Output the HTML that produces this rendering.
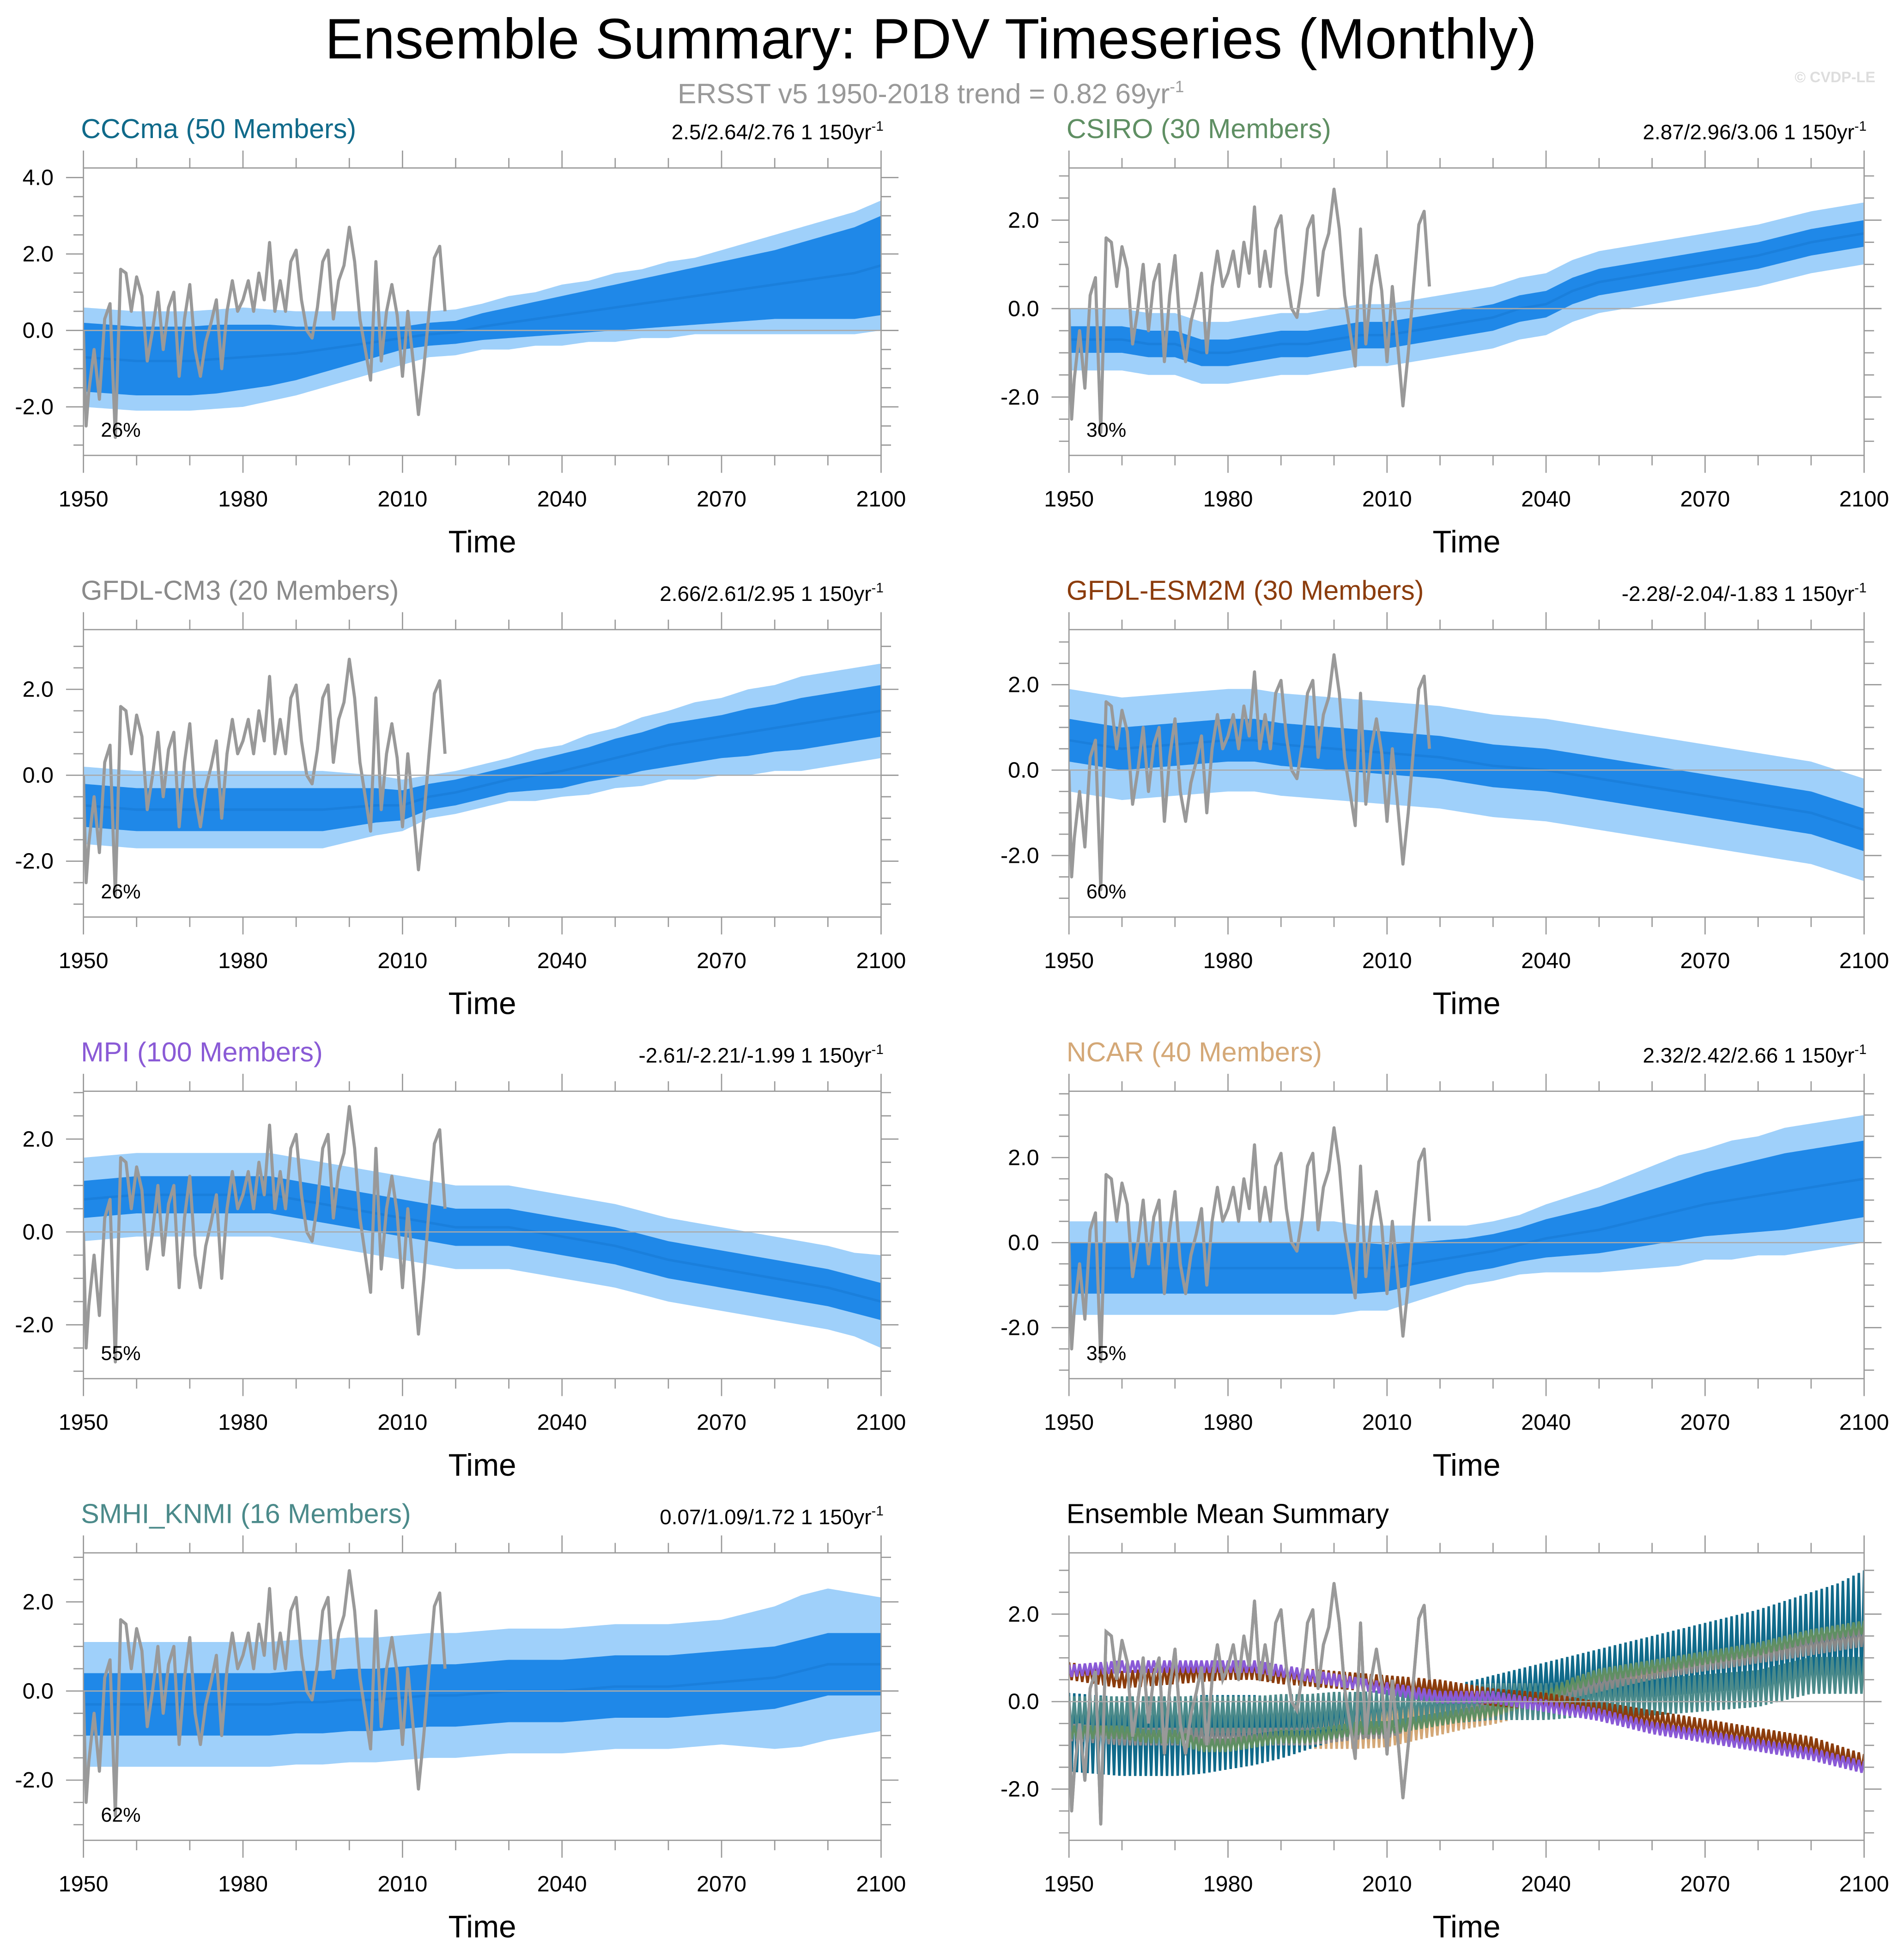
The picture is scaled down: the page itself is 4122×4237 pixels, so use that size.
<!DOCTYPE html>
<html><head><meta charset="utf-8"><style>
html,body{margin:0;padding:0;background:#fff}
svg{display:block}
text{font-family:"Liberation Sans",sans-serif}
</style></head><body>
<svg id="root" xmlns="http://www.w3.org/2000/svg" width="4122" height="4237" viewBox="0 0 1530 1572.8">
<rect width="1530" height="1572.8" fill="#fff"/>
<text x="748" y="47" font-size="46" text-anchor="middle" fill="#000">Ensemble Summary: PDV Timeseries (Monthly)</text>
<text x="748" y="83" font-size="22.5" text-anchor="middle" fill="#999">ERSST v5 1950-2018 trend = 0.82 69yr<tspan dy="-9" font-size="13">-1</tspan></text>
<text x="1507" y="66" font-size="12" font-weight="bold" text-anchor="end" fill="#ddd">© CVDP-LE</text>
<g id="panels"></g>
</svg>
<script>
const years5 = [1950,1955,1960,1965,1970,1975,1980,1985,1990,1995,2000,2005,2010,2015,2020,2025,2030,2035,2040,2045,2050,2055,2060,2065,2070,2075,2080,2085,2090,2095,2100];
const obsYears = [1950,1950.5,1951,1952,1953,1954,1955,1956,1957,1958,1959,1960,1961,1962,1963,1964,1965,1966,1967,1968,1969,1970,1971,1972,1973,1974,1975,1976,1977,1978,1979,1980,1981,1982,1983,1984,1985,1986,1987,1988,1989,1990,1991,1992,1993,1994,1995,1996,1997,1998,1999,2000,2001,2002,2003,2004,2005,2006,2007,2008,2009,2010,2011,2012,2013,2014,2015,2016,2017,2018];
const obsValues = [0.0,-2.5,-1.6,-0.5,-1.8,0.3,0.7,-2.8,1.6,1.5,0.5,1.4,0.9,-0.8,0.0,1.0,-0.5,0.6,1.0,-1.2,0.3,1.2,-0.5,-1.2,-0.3,0.2,0.8,-1.0,0.5,1.3,0.5,0.8,1.3,0.5,1.5,0.8,2.3,0.5,1.3,0.5,1.8,2.1,0.8,0.0,-0.2,0.6,1.8,2.1,0.3,1.3,1.7,2.7,1.8,0.3,-0.5,-1.3,1.8,-0.8,0.5,1.2,0.4,-1.2,0.5,-0.8,-2.2,-1.0,0.5,1.9,2.2,0.5];

const cccmaMean = [-0.7,-0.75,-0.8,-0.8,-0.8,-0.75,-0.7,-0.65,-0.6,-0.5,-0.4,-0.3,-0.2,-0.1,-0.05,0.1,0.2,0.3,0.4,0.5,0.6,0.7,0.8,0.9,1.0,1.1,1.2,1.3,1.4,1.5,1.7];
const cccmaInner = [0.9,0.9,0.9,0.9,0.9,0.9,0.85,0.8,0.7,0.6,0.5,0.4,0.3,0.3,0.3,0.35,0.4,0.45,0.5,0.55,0.6,0.65,0.7,0.75,0.8,0.85,0.9,1.0,1.1,1.2,1.3];
const cccmaOuter = [1.3,1.3,1.3,1.3,1.3,1.3,1.3,1.2,1.1,1.0,0.9,0.8,0.7,0.6,0.6,0.6,0.7,0.7,0.8,0.8,0.9,0.9,1.0,1.0,1.1,1.2,1.3,1.4,1.5,1.6,1.7];
const csiroMean = [-0.7,-0.7,-0.7,-0.8,-0.8,-1.0,-1.0,-0.9,-0.8,-0.8,-0.7,-0.6,-0.6,-0.5,-0.4,-0.3,-0.2,0.0,0.1,0.4,0.6,0.7,0.8,0.9,1.0,1.1,1.2,1.35,1.5,1.6,1.7];
const csiroInner = [0.3,0.3,0.3,0.3,0.3,0.3,0.3,0.3,0.3,0.3,0.3,0.3,0.3,0.3,0.3,0.3,0.3,0.3,0.3,0.3,0.3,0.3,0.3,0.3,0.3,0.3,0.3,0.3,0.3,0.3,0.3];
const csiroOuter = [0.7,0.7,0.7,0.7,0.7,0.7,0.7,0.7,0.7,0.7,0.7,0.7,0.7,0.7,0.7,0.7,0.7,0.7,0.7,0.7,0.7,0.7,0.7,0.7,0.7,0.7,0.7,0.7,0.7,0.7,0.7];
const cm3Mean = [-0.7,-0.75,-0.8,-0.8,-0.8,-0.8,-0.8,-0.8,-0.8,-0.8,-0.75,-0.7,-0.7,-0.5,-0.4,-0.25,-0.1,0.0,0.1,0.25,0.4,0.55,0.7,0.8,0.9,1.0,1.1,1.2,1.3,1.4,1.5];
const cm3Inner = [0.5,0.5,0.5,0.5,0.5,0.5,0.5,0.5,0.5,0.5,0.45,0.4,0.35,0.3,0.3,0.3,0.3,0.35,0.4,0.4,0.45,0.45,0.5,0.5,0.5,0.55,0.55,0.6,0.6,0.6,0.6];
const cm3Outer = [0.9,0.9,0.9,0.9,0.9,0.9,0.9,0.9,0.9,0.9,0.8,0.7,0.6,0.5,0.5,0.5,0.5,0.6,0.6,0.7,0.7,0.8,0.8,0.9,0.9,1.0,1.0,1.1,1.1,1.1,1.1];
const esmMean = [0.7,0.6,0.5,0.55,0.6,0.65,0.7,0.7,0.6,0.55,0.5,0.45,0.4,0.35,0.3,0.2,0.1,0.05,0.0,-0.1,-0.2,-0.3,-0.4,-0.5,-0.6,-0.7,-0.8,-0.9,-1.0,-1.2,-1.4];
const esmInner = [0.5,0.5,0.5,0.5,0.5,0.5,0.5,0.5,0.5,0.5,0.5,0.5,0.5,0.5,0.5,0.5,0.5,0.5,0.5,0.5,0.5,0.5,0.5,0.5,0.5,0.5,0.5,0.5,0.5,0.5,0.5];
const esmOuter = [1.2,1.2,1.2,1.2,1.2,1.2,1.2,1.2,1.2,1.2,1.2,1.2,1.2,1.2,1.2,1.2,1.2,1.2,1.2,1.2,1.2,1.2,1.2,1.2,1.2,1.2,1.2,1.2,1.2,1.2,1.2];
const mpiMean = [0.7,0.75,0.8,0.8,0.8,0.8,0.8,0.8,0.7,0.6,0.5,0.4,0.3,0.2,0.1,0.1,0.1,0.0,-0.1,-0.2,-0.3,-0.45,-0.6,-0.7,-0.8,-0.9,-1.0,-1.1,-1.2,-1.35,-1.5];
const mpiInner = [0.4,0.4,0.4,0.4,0.4,0.4,0.4,0.4,0.4,0.4,0.4,0.4,0.4,0.4,0.4,0.4,0.4,0.4,0.4,0.4,0.4,0.4,0.4,0.4,0.4,0.4,0.4,0.4,0.4,0.4,0.4];
const mpiOuter = [0.9,0.9,0.9,0.9,0.9,0.9,0.9,0.9,0.9,0.9,0.9,0.9,0.9,0.9,0.9,0.9,0.9,0.9,0.9,0.9,0.9,0.9,0.9,0.9,0.9,0.9,0.9,0.9,0.9,0.9,1.0];
const ncarMean = [-0.6,-0.6,-0.6,-0.6,-0.6,-0.6,-0.6,-0.6,-0.6,-0.6,-0.6,-0.6,-0.6,-0.5,-0.4,-0.3,-0.2,-0.05,0.1,0.2,0.3,0.45,0.6,0.75,0.9,1.0,1.1,1.2,1.3,1.4,1.5];
const ncarInner = [0.6,0.6,0.6,0.6,0.6,0.6,0.6,0.6,0.6,0.6,0.6,0.6,0.55,0.5,0.45,0.4,0.4,0.4,0.45,0.5,0.55,0.6,0.65,0.7,0.75,0.8,0.85,0.9,0.9,0.9,0.9];
const ncarOuter = [1.1,1.1,1.1,1.1,1.1,1.1,1.1,1.1,1.1,1.1,1.1,1.0,1.0,0.9,0.8,0.7,0.7,0.7,0.8,0.9,1.0,1.1,1.2,1.3,1.3,1.4,1.4,1.5,1.5,1.5,1.5];
const smhiMean = [-0.3,-0.3,-0.3,-0.3,-0.3,-0.3,-0.3,-0.3,-0.25,-0.25,-0.2,-0.2,-0.15,-0.1,-0.1,-0.05,0.0,0.0,0.0,0.05,0.1,0.1,0.1,0.15,0.2,0.25,0.3,0.45,0.6,0.6,0.6];
const smhiInner = [0.7,0.7,0.7,0.7,0.7,0.7,0.7,0.7,0.7,0.7,0.7,0.7,0.7,0.7,0.7,0.7,0.7,0.7,0.7,0.7,0.7,0.7,0.7,0.7,0.7,0.7,0.7,0.7,0.7,0.7,0.7];
const smhiOuter = [1.4,1.4,1.4,1.4,1.4,1.4,1.4,1.4,1.4,1.4,1.4,1.4,1.4,1.4,1.4,1.4,1.4,1.4,1.4,1.4,1.4,1.4,1.4,1.4,1.4,1.5,1.6,1.7,1.7,1.6,1.5];

const xTickYears = [1950,1980,2010,2040,2070,2100];

const NS = "http://www.w3.org/2000/svg";
const root = document.getElementById('panels');
function mk(tag, attrs, parent){const e=document.createElementNS(NS,tag);for(const k in attrs)e.setAttribute(k,attrs[k]);(parent||root).appendChild(e);return e;}
function interp(arr, yr){const t=(yr-1950)/5;const i=Math.min(Math.floor(t),29);const f=t-i;return arr[i]*(1-f)+arr[i+1]*f;}

const panels = [
 {name:'cccma',title:'CCCma (50 Members)',color:'#106a8a',stat:'2.5/2.64/2.76 1 150yr',col:0,row:0,ymin:-3.27,ymax:4.25,yt:[-2,0,2,4],pct:'26%',m:cccmaMean,i:cccmaInner,o:cccmaOuter},
 {name:'csiro',title:'CSIRO (30 Members)',color:'#5f8f63',stat:'2.87/2.96/3.06 1 150yr',col:1,row:0,ymin:-3.32,ymax:3.18,yt:[-2,0,2],pct:'30%',m:csiroMean,i:csiroInner,o:csiroOuter},
 {name:'gfdl-cm3',title:'GFDL-CM3 (20 Members)',color:'#8a8a8a',stat:'2.66/2.61/2.95 1 150yr',col:0,row:1,ymin:-3.3,ymax:3.39,yt:[-2,0,2],pct:'26%',m:cm3Mean,i:cm3Inner,o:cm3Outer},
 {name:'gfdl-esm2m',title:'GFDL-ESM2M (30 Members)',color:'#8b3c0c',stat:'-2.28/-2.04/-1.83 1 150yr',col:1,row:1,ymin:-3.44,ymax:3.29,yt:[-2,0,2],pct:'60%',m:esmMean,i:esmInner,o:esmOuter},
 {name:'mpi',title:'MPI (100 Members)',color:'#8a5ad6',stat:'-2.61/-2.21/-1.99 1 150yr',col:0,row:2,ymin:-3.16,ymax:3.03,yt:[-2,0,2],pct:'55%',m:mpiMean,i:mpiInner,o:mpiOuter},
 {name:'ncar',title:'NCAR (40 Members)',color:'#d4a877',stat:'2.32/2.42/2.66 1 150yr',col:1,row:2,ymin:-3.2,ymax:3.56,yt:[-2,0,2],pct:'35%',m:ncarMean,i:ncarInner,o:ncarOuter},
 {name:'smhi-knmi',title:'SMHI_KNMI (16 Members)',color:'#4b8a8a',stat:'0.07/1.09/1.72 1 150yr',col:0,row:3,ymin:-3.35,ymax:3.1,yt:[-2,0,2],pct:'62%',m:smhiMean,i:smhiInner,o:smhiOuter},
 {name:'ensemble-mean',title:'Ensemble Mean Summary',color:'#000',stat:null,col:1,row:3,ymin:-3.17,ymax:3.4,yt:[-2,0,2],pct:null}
];

panels.forEach(p=>{
  const L = p.col? 859:67, R = p.col?1498:708, T = 135+p.row*371, B = T+231;
  const xs = yr => L + (yr-1950)/150*(R-L);
  const ys = v => B - (v-p.ymin)/(p.ymax-p.ymin)*(B-T);
  const g = mk('g',{});
  
  
  const clipId='clip-'+p.name;
  const cp=mk('clipPath',{id:clipId},g); mk('rect',{x:L,y:T,width:R-L,height:B-T},cp);
  const plot=mk('g',{'clip-path':'url(#'+clipId+')'},g);
  const zl=mk('line',{x1:L,x2:R+14,y1:ys(0),y2:ys(0),stroke:'#aaa','stroke-width':1},g);
  
  
  if(p.m){
    const fine=[];for(let y=1950;y<=2100.001;y+=0.5)fine.push(y);
    let up='',dn='';
    fine.forEach(y=>{up+=xs(y)+','+ys(interp(p.m,y)+interp(p.o,y))+' ';});
    fine.slice().reverse().forEach(y=>{dn+=xs(y)+','+ys(interp(p.m,y)-interp(p.o,y))+' ';});
    const ob=mk('polygon',{points:up+dn,fill:'#9fd0fa'},plot);
    
    
    up='';dn='';
    fine.forEach(y=>{up+=xs(y)+','+ys(interp(p.m,y)+interp(p.i,y))+' ';});
    fine.slice().reverse().forEach(y=>{dn+=xs(y)+','+ys(interp(p.m,y)-interp(p.i,y))+' ';});
    const ib=mk('polygon',{points:up+dn,fill:'#1f88e8'},plot);
    
    
    const ml=mk('polyline',{points:years5.map((y,k)=>xs(y)+','+ys(p.m[k])).join(' '),fill:'none',stroke:'#1a7fdc','stroke-width':2},plot);
    
    
  }
  const obs=mk('polyline',{points:obsYears.map((y,k)=>xs(y)+','+ys(obsValues[k])).join(' '),fill:'none',stroke:'#999','stroke-width':2.5,'stroke-linejoin':'round'},plot);
  
  
  if(!p.m){
    const sets=[[ncarMean,ncarInner,'#d4a877',0.8],[cccmaMean,cccmaInner,'#106a8a',1.0],[smhiMean,smhiInner,'#4b8a8a',0.6],[cm3Mean,cm3Inner,'#888',0.4],[csiroMean,csiroInner,'#5f8f63',0.5],[esmMean,esmInner,'#8b3c0c',0.4],[mpiMean,mpiInner,'#8a5ad6',0.35]];
    sets.forEach(([m,inn,c,s])=>{
      let pts='';let sgn=1;
      for(let y=1950;y<=2100.001;y+=0.5){pts+=xs(y)+','+ys(interp(m,y)+sgn*interp(inn,y)*s)+' ';sgn=-sgn;}
      const l=mk('polyline',{points:pts,fill:'none',stroke:c,'stroke-width':2},plot);
      
      
    });
    const obs2=mk('polyline',{points:obsYears.map((y,k)=>xs(y)+','+ys(obsValues[k])).join(' '),fill:'none',stroke:'#999','stroke-width':2.5},plot);
    
    
  }
  const fr=mk('rect',{x:L,y:T,width:R-L,height:B-T,fill:'none',stroke:'#999','stroke-width':1},g);
  
  
  for(let y=1950;y<=2100;y+=10){
    const major=(y-1950)%30===0, len=major?14:8;
    mk('line',{x1:xs(y),x2:xs(y),y1:B,y2:B+len,stroke:'#999','stroke-width':1},g);
    mk('line',{x1:xs(y),x2:xs(y),y1:T,y2:T-len,stroke:'#999','stroke-width':1},g);
  }
  xTickYears.forEach(y=>{
    const t=mk('text',{x:xs(y),y:B+41,'font-size':18,'text-anchor':'middle'},g);t.textContent=y;
    
    
  });
  for(let v=Math.ceil(p.ymin*2)/2; v<=p.ymax; v+=0.5){
    const major=Math.abs(v-Math.round(v/2)*2)<1e-6, len=major?14:8;
    mk('line',{x1:L-len,x2:L,y1:ys(v),y2:ys(v),stroke:'#999','stroke-width':1},g);
    mk('line',{x1:R,x2:R+len,y1:ys(v),y2:ys(v),stroke:'#999','stroke-width':1},g);
  }
  p.yt.forEach(v=>{
    const t=mk('text',{x:L-24,y:ys(v)+6,'font-size':18,'text-anchor':'end'},g);t.textContent=v.toFixed(1);
    
    
  });
  const xt=mk('text',{x:(L+R)/2,y:B+78,'font-size':25,'text-anchor':'middle'},g);xt.textContent='Time';
  
  
  const tt=mk('text',{x:L-2,y:T-24,'font-size':22,fill:p.color},g);tt.textContent=p.title;
  
  
  if(p.stat){
    const st=mk('text',{x:R+2,y:T-23,'font-size':17,'text-anchor':'end'},g);st.textContent=p.stat;
    const sp=mk('tspan',{dy:-7,'font-size':11},st);sp.textContent='-1';
    
    
  }
  if(p.pct){
    const pc=mk('text',{x:L+14,y:B-15,'font-size':16},g);pc.textContent=p.pct;
    
    
  }
});
</script>
</body></html>
